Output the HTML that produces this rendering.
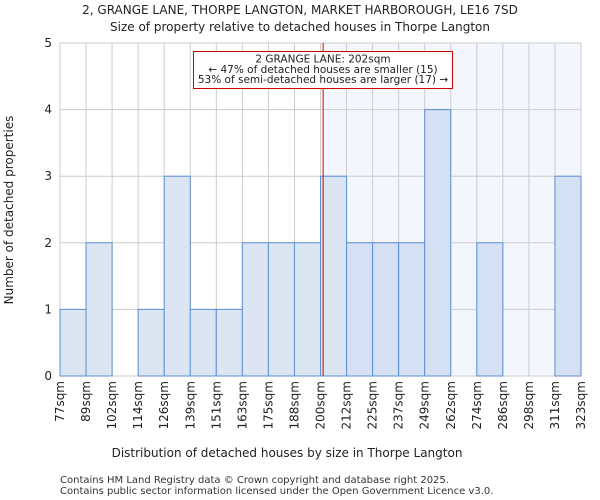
<!DOCTYPE html>
<html><head><meta charset="utf-8"><style>
body{margin:0;background:#fff;}
svg{display:block;font-family:"DejaVu Sans","Liberation Sans",sans-serif;}
</style></head><body>
<svg id="chart" width="600" height="500">
<text x="300" y="14" text-anchor="middle" font-size="12" fill="#222">2, GRANGE LANE, THORPE LANGTON, MARKET HARBOROUGH, LE16 7SD</text>
<text x="300" y="31" text-anchor="middle" font-size="12" fill="#222">Size of property relative to detached houses in Thorpe Langton</text>
<g id="plot"></g>
<text x="287" y="457" text-anchor="middle" font-size="12" fill="#222">Distribution of detached houses by size in Thorpe Langton</text>
<text transform="translate(13,210) rotate(-90)" text-anchor="middle" font-size="12" fill="#222">Number of detached properties</text>
<text x="60" y="483" font-size="10" fill="#333">Contains HM Land Registry data © Crown copyright and database right 2025.</text>
<text x="60" y="494" font-size="10" fill="#333">Contains public sector information licensed under the Open Government Licence v3.0.</text>
</svg>
<script>
const binLabels=["77sqm","89sqm","102sqm","114sqm","126sqm","139sqm","151sqm","163sqm","175sqm","188sqm","200sqm","212sqm","225sqm","237sqm","249sqm","262sqm","274sqm","286sqm","298sqm","311sqm","323sqm"];
const counts=[1,2,0,1,3,1,1,2,2,2,3,2,2,2,4,0,2,0,0,3];
const yTicks=[0,1,2,3,4,5];
const propertyIndex=10.1;
const NS="http://www.w3.org/2000/svg";
const X0=60,X1=581,Y0=376,Y1=43,YMAX=5;
const bw=(X1-X0)/counts.length;
const xs=i=>X0+i*bw;
const ys=v=>Y0-(Y0-Y1)*v/YMAX;
const g=document.getElementById('plot');
function mk(t,a){const e=document.createElementNS(NS,t);for(const k in a)e.setAttribute(k,a[k]);g.appendChild(e);return e;}
const px=xs(propertyIndex);
let e=mk('rect',{x:px,y:Y1,width:X1-px,height:Y0-Y1,fill:'#f3f6fd'});


for(let i=0;i<=counts.length;i++){e=mk('line',{x1:xs(i),x2:xs(i),y1:Y1,y2:Y0,stroke:'#cccccc','stroke-width':1});

}
yTicks.forEach(t=>{e=mk('line',{x1:X0,x2:X1,y1:ys(t),y2:ys(t),stroke:'#cccccc','stroke-width':1});


e=mk('text',{x:X0-8,y:ys(t)+4,'text-anchor':'end','font-size':12,fill:'#222'});e.textContent=t;

});
counts.forEach((c,i)=>{if(c<=0)return;
e=mk('rect',{x:xs(i),y:ys(c),width:bw,height:Y0-ys(c),fill:(i>=propertyIndex?'#d5e0f2':'#dce6f3'),stroke:'#5b8fd6','stroke-width':1});

});
binLabels.forEach((l,i)=>{const x=xs(i)+4;
e=mk('text',{transform:`translate(${x},381) rotate(-90)`,'text-anchor':'end','font-size':12,fill:'#222'});e.textContent=l;

});
e=mk('line',{x1:px,x2:px,y1:Y1,y2:Y0,stroke:'#cc0000','stroke-width':1});


e=mk('rect',{x:193.5,y:51.5,width:259,height:37,fill:'#fff',stroke:'#cc0000','stroke-width':1});


["2 GRANGE LANE: 202sqm","← 47% of detached houses are smaller (15)","53% of semi-detached houses are larger (17) →"].forEach((s,k)=>{
e=mk('text',{x:323,y:62.5+k*10.3,'text-anchor':'middle','font-size':10.5,fill:'#222'});e.textContent=s;

});
</script>
</body></html>
